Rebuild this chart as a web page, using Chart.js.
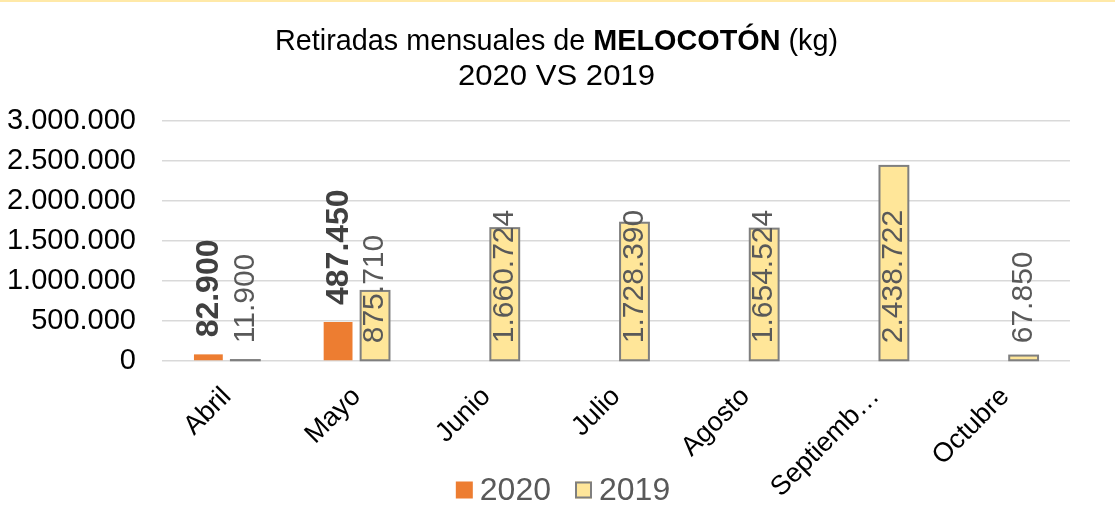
<!DOCTYPE html>
<html>
<head>
<meta charset="utf-8">
<script src="https://cdn.jsdelivr.net/npm/chart.js@4"></script>
<style>
  html,body{margin:0;padding:0;background:#fff;}
  body{width:1115px;height:519px;overflow:hidden;position:relative;}
  #topline{position:absolute;left:0;top:0;width:1115px;height:2px;background:#FFE9A8;}
  #wrap{position:absolute;left:0;top:0;width:1115px;height:519px;}
</style>
</head>
<body>
<div id="topline"></div>
<div id="wrap"><canvas id="c" width="1115" height="519"></canvas></div>
<script>
const categories = ['Abril', 'Mayo', 'Junio', 'Julio', 'Agosto', 'Septiemb…', 'Octubre'];
const series2020 = [82900, 487450, null, null, null, null, null];
const series2019 = [11900, 875710, 1660724, 1728390, 1654524, 2438722, 67850];
const seriesNames = ['2020', '2019'];
const yTicks = [0, 500000, 1000000, 1500000, 2000000, 2500000, 3000000];
const titleLine1 = [
  {text: 'Retiradas mensuales de ', bold: false},
  {text: 'MELOCOTÓN', bold: true},
  {text: ' (kg)', bold: false}
];
const titleLine2 = '2020 VS 2019';

function fmt(v) {
  return String(Math.round(v)).replace(/\B(?=(\d{3})+(?!\d))/g, '.');
}

const FONT = "'Liberation Sans', Arial, sans-serif";
const TITLE_FONT = "'Liberation Sans', Arial, sans-serif";
const BAR_EDGE = '#7F7F7F';

const titlePlugin = {
  id: 'richTitle',
  afterDraw(chart) {
    const ctx = chart.ctx;
    ctx.save();
    ctx.fillStyle = '#000';
    ctx.textBaseline = 'middle';
    ctx.textAlign = 'left';
    const size = 30;
    let total = 0;
    titleLine1.forEach(s => {
      ctx.font = (s.bold ? 'bold ' : '') + size + 'px ' + TITLE_FONT;
      total += ctx.measureText(s.text).width;
    });
    const targetW = 563;
    const sx = targetW / total;
    const cx = 556.5;
    ctx.save();
    ctx.translate(cx - targetW / 2, 42);
    ctx.scale(sx, 1);
    let x = 0;
    titleLine1.forEach(s => {
      ctx.font = (s.bold ? 'bold ' : '') + size + 'px ' + TITLE_FONT;
      ctx.fillText(s.text, x, 0);
      x += ctx.measureText(s.text).width;
    });
    ctx.restore();
    ctx.font = size + 'px ' + TITLE_FONT;
    const w2 = ctx.measureText(titleLine2).width;
    ctx.save();
    ctx.translate(cx, 77);
    ctx.scale(197 / w2, 1);
    ctx.textAlign = 'center';
    ctx.fillText(titleLine2, 0, 0);
    ctx.restore();
    ctx.restore();
  }
};

const legendPlugin = {
  id: 'bottomLegend',
  afterDraw(chart) {
    const ctx = chart.ctx;
    const ds = chart.data.datasets;
    ctx.save();
    ctx.font = '32px ' + FONT;
    ctx.textBaseline = 'middle';
    ctx.textAlign = 'left';
    const box = 17, gapText = 7, gapItem = 24;
    const widths = ds.map(d => box + gapText + ctx.measureText(d.label).width);
    const total = widths.reduce((a, b) => a + b, 0) + gapItem * (ds.length - 1);
    let x = 563 - total / 2;
    const cy = 490;
    ds.forEach((d, i) => {
      ctx.fillStyle = d.backgroundColor;
      ctx.fillRect(x, cy - box / 2, box, box);
      if (d.borderColor !== d.backgroundColor) {
        ctx.strokeStyle = d.borderColor;
        ctx.lineWidth = 2;
        ctx.strokeRect(x + 1, cy - box / 2 + 1, box - 2, box - 2);
      }
      ctx.fillStyle = '#595959';
      ctx.fillText(d.label, x + box + gapText, cy + 1);
      x += widths[i] + gapItem;
    });
    ctx.restore();
  }
};

const labelPlugin = {
  id: 'barLabels',
  afterDatasetsDraw(chart) {
    const ctx = chart.ctx;
    // outline for 2019 bars (Excel-style border that doesn't shrink on tiny bars)
    const meta1 = chart.getDatasetMeta(1);
    meta1.data.forEach((el, i) => {
      const v = chart.data.datasets[1].data[i];
      if (v === null || v === undefined) return;
      const p = el.getProps(['x', 'y', 'base', 'width'], true);
      ctx.save();
      ctx.strokeStyle = BAR_EDGE;
      ctx.lineWidth = 2;
      ctx.strokeRect(p.x - p.width / 2, p.y, p.width, p.base - p.y);
      ctx.restore();
    });
    chart.data.datasets.forEach((ds, di) => {
      const meta = chart.getDatasetMeta(di);
      meta.data.forEach((el, i) => {
        const v = ds.data[i];
        if (v === null || v === undefined) return;
        const p = el.getProps(['x', 'y', 'base'], true);
        ctx.save();
        ctx.textAlign = 'left';
        ctx.textBaseline = 'middle';
        let sx, sy;
        if (di === 0) {
          ctx.font = 'bold 32px ' + FONT;
          ctx.fillStyle = '#404040';
          sx = p.x + 1; sy = p.y - 17;
        } else {
          ctx.font = '30px ' + FONT;
          ctx.fillStyle = '#595959';
          sx = p.x; sy = p.base - 17;
        }
        ctx.translate(sx, sy);
        ctx.rotate(-Math.PI / 2);
        ctx.fillText(fmt(v), 0, 0);
        ctx.restore();
      });
    });
  }
};

new Chart(document.getElementById('c'), {
  type: 'bar',
  data: {
    labels: categories,
    datasets: [
      {
        label: seriesNames[0],
        data: series2020,
        backgroundColor: '#ED7D31',
        borderColor: '#ED7D31',
        borderWidth: 0,
        barPercentage: 0.78,
        categoryPercentage: 0.57
      },
      {
        label: seriesNames[1],
        data: series2019,
        backgroundColor: '#FFE699',
        borderColor: BAR_EDGE,
        borderWidth: 0,
        barPercentage: 0.78,
        categoryPercentage: 0.57
      }
    ]
  },
  options: {
    responsive: false,
    animation: false,
    devicePixelRatio: 1,
    layout: {padding: {top: 121, right: 45, left: 0, bottom: 0}},
    plugins: {
      title: {display: false},
      tooltip: {enabled: false},
      legend: {display: false}
    },
    scales: {
      x: {
        grid: {display: false},
        border: {display: false},
        ticks: {
          color: '#000',
          font: {family: FONT, size: 27},
          minRotation: 45,
          maxRotation: 45,
          autoSkip: false,
          padding: 12
        },
        afterFit(scale) {
          scale.height = scale.chart.height - 361;
        }
      },
      y: {
        min: 0,
        max: 3000000,
        afterBuildTicks(scale) {
          scale.ticks = yTicks.map(v => ({value: v}));
        },
        grid: {color: '#D9D9D9', lineWidth: 1.5, drawTicks: false},
        border: {display: false},
        ticks: {
          color: '#000',
          font: {family: FONT, size: 29},
          padding: 26,
          callback: v => fmt(v)
        },
        afterFit(scale) { scale.width = 162; }
      }
    }
  },
  plugins: [titlePlugin, labelPlugin, legendPlugin]
});
</script>
</body>
</html>
